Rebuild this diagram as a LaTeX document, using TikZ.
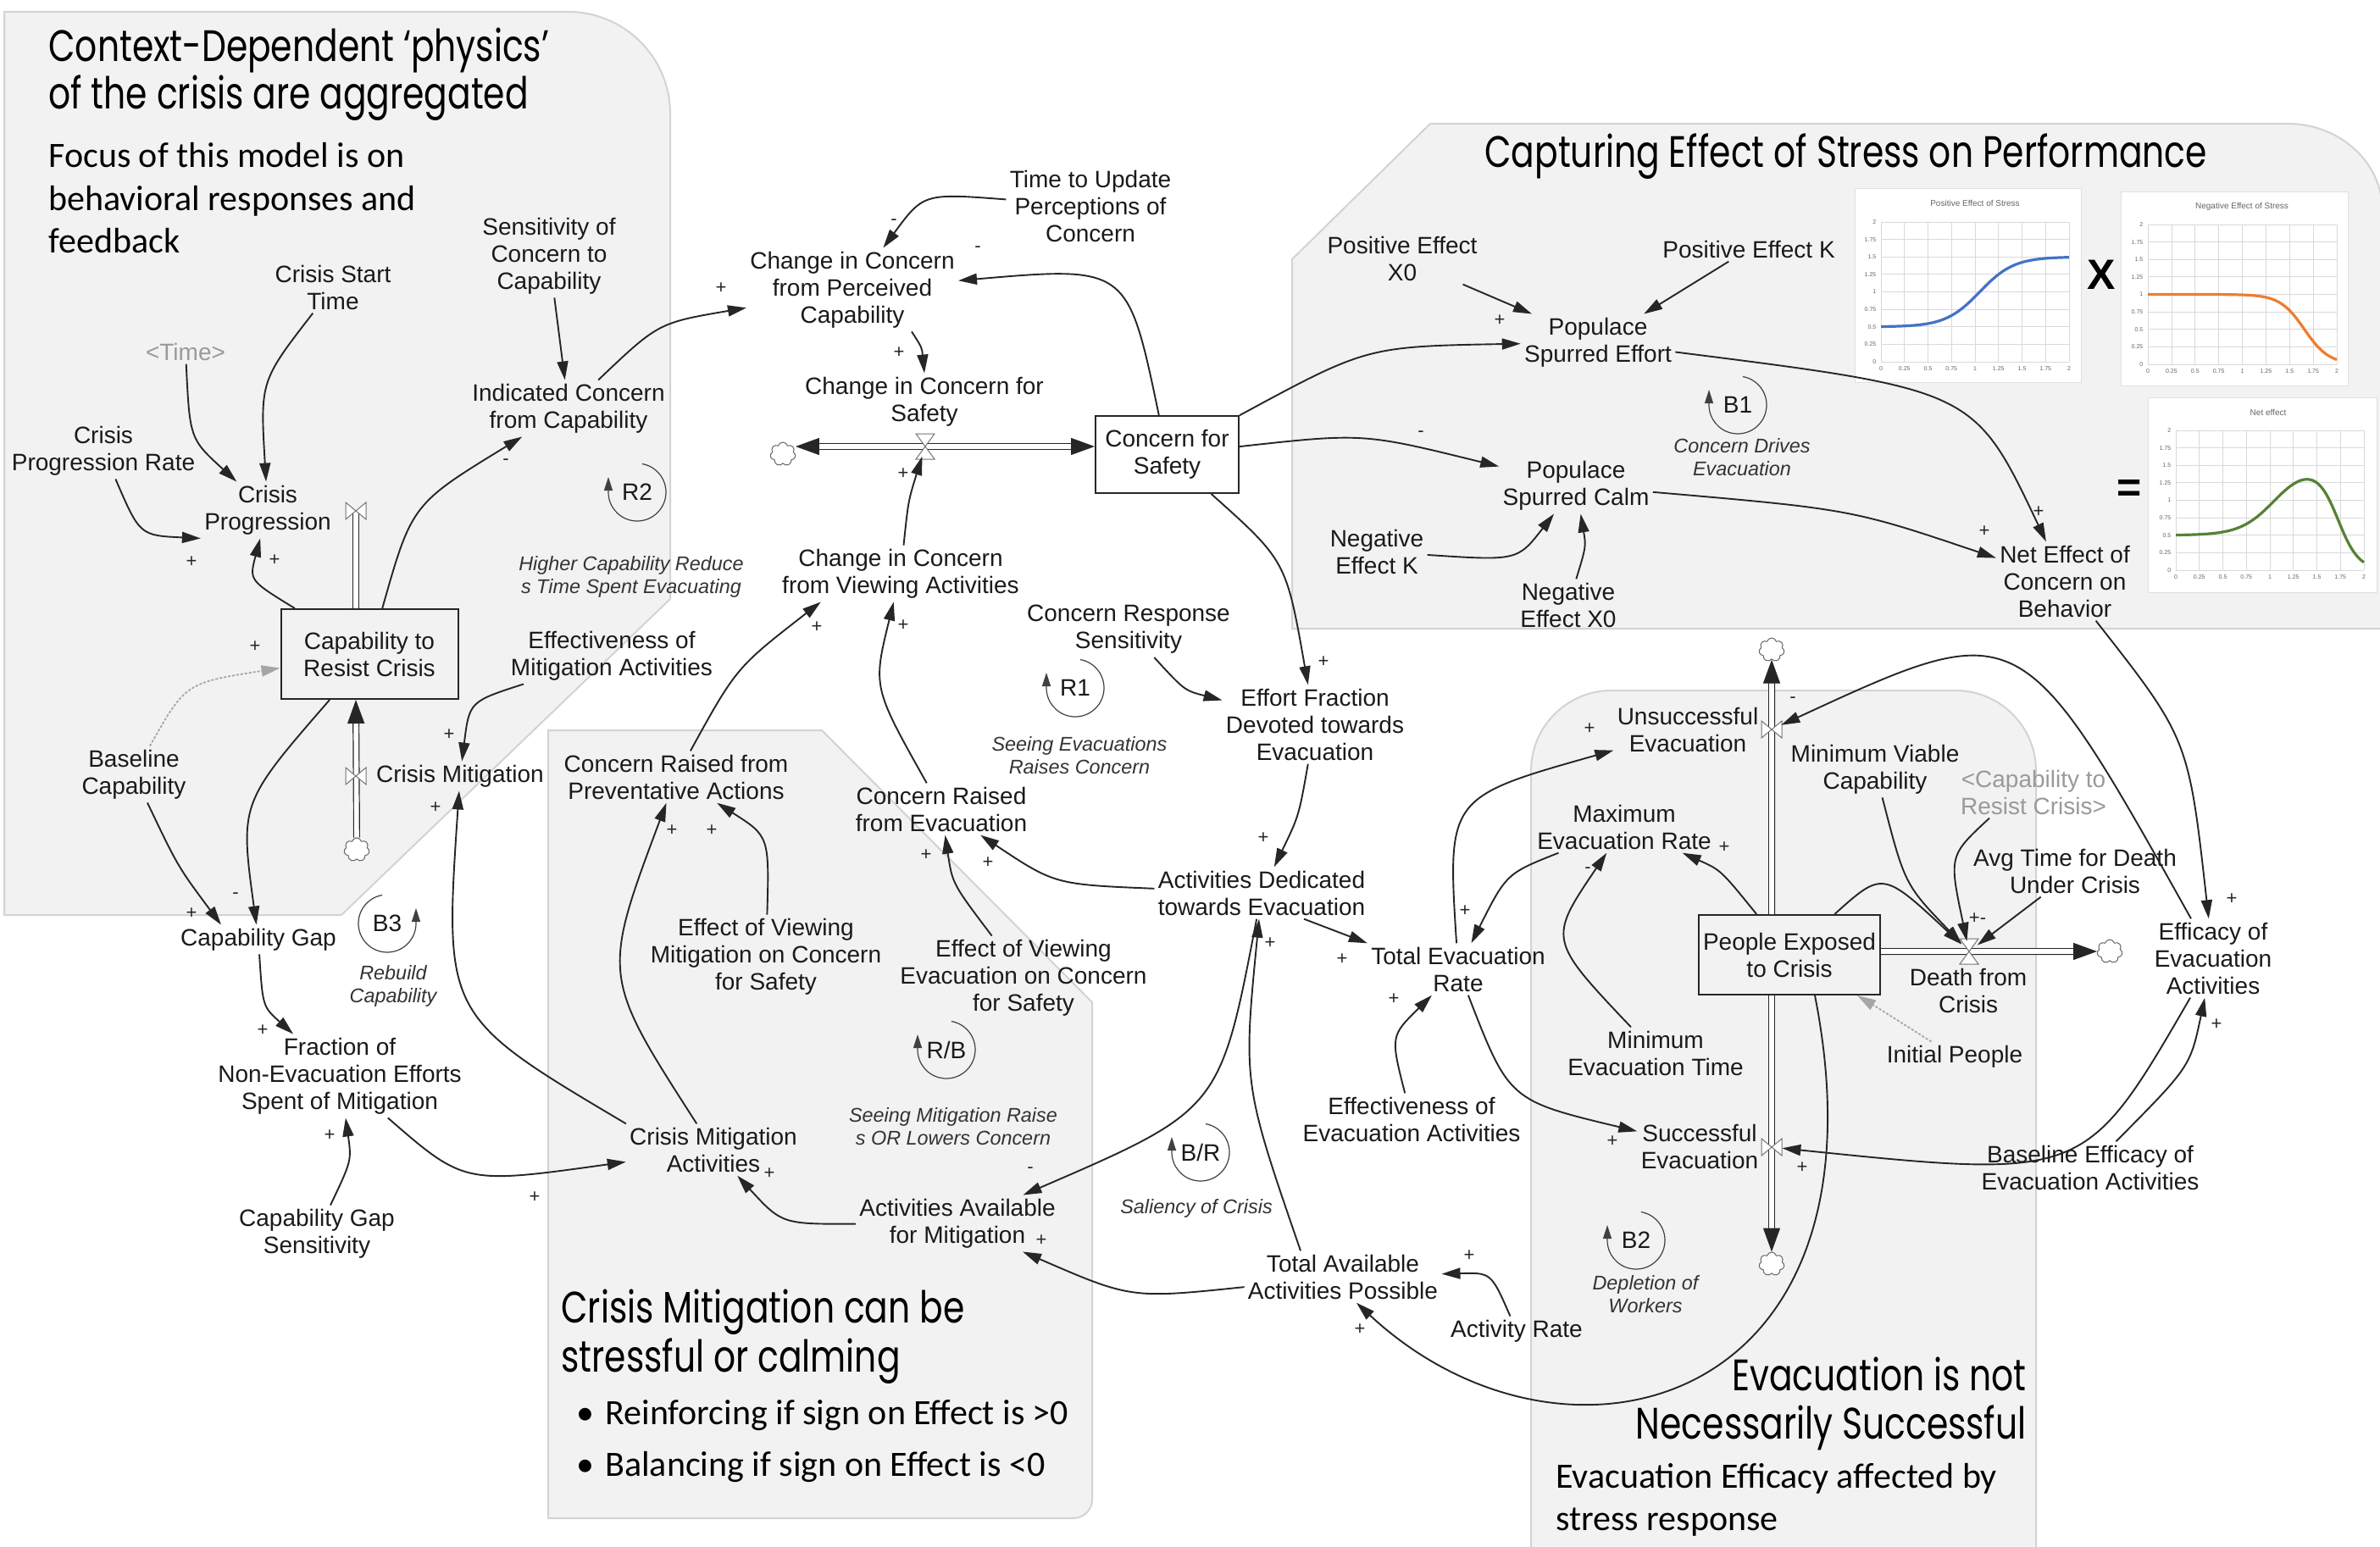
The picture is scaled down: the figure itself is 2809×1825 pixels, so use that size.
\documentclass[tikz,border=0pt]{standalone}
\usepackage{fontspec}
\setmainfont{Liberation Sans}
\newfontfamily\ttlfont[FakeStretch=0.785]{Poppins}
\newfontfamily\bdyfont{Carlito}
\usetikzlibrary{arrows.meta,shapes.symbols,calc}
\definecolor{panelfill}{HTML}{F2F2F2}
\definecolor{panelline}{HTML}{D3D3D3}
\definecolor{txt}{HTML}{1A1A1A}
\definecolor{graytxt}{HTML}{9A9A9A}
\definecolor{cblue}{HTML}{4472C4}
\definecolor{corange}{HTML}{ED7D31}
\definecolor{cgreen}{HTML}{548235}
\definecolor{gridc}{HTML}{D9D9D9}
\tikzset{
 var/.style={align=center, text=txt, font=\fontsize{14}{16}\selectfont, inner sep=2pt},
 gvar/.style={var, text=graytxt},
 stockbox/.style={var, draw=black!85, line width=1pt, inner sep=0pt},
 lname/.style={align=center, text=black!80, font=\fontsize{11.7}{13.5}\selectfont\itshape, inner sep=1pt},
 sgn/.style={font=\fontsize{11}{11}\selectfont, text=black!85, inner sep=0pt},
 link/.style={draw=black!85, line width=0.95pt, -{Triangle[length=11pt,width=6.5pt]}},
 glink/.style={draw=black!35, line width=0.9pt, dash pattern=on 1.5pt off 1pt, -{Triangle[length=11pt,width=6.5pt]}},
 pipe/.style={draw=black!85, double=white, double distance=2.8pt, line width=0.6pt},
 ptip/.style={-{Triangle[length=14pt,width=10pt]}},
 ptipb/.style={{Triangle[length=14pt,width=10pt]}-{Triangle[length=14pt,width=10pt]}},
 valvept/.style={circle, inner sep=0pt, minimum size=12pt},
 valveline/.style={draw=black!55, fill=white, line width=0.5pt},
 cloudn/.style={cloud, cloud puffs=7, aspect=1, draw=black!60, fill=white, line width=0.5pt, minimum width=15pt, minimum height=14pt, inner sep=0pt},
 panel/.style={fill=panelfill, draw=panelline, line width=1pt},
 loopline/.style={draw=black!75, line width=0.6pt, -{Triangle[length=8pt,width=5pt]}},
 charttitle/.style={font=\fontsize{5}{6}\selectfont, text=black!60, inner sep=0pt},
 ticklab/.style={font=\fontsize{3.5}{4}\selectfont, text=black!60, inner sep=1pt},
 chartbox/.style={draw=black!12, fill=white, line width=0.5pt},
 ttl/.style={font=\ttlfont\fontsize{26}{28}\selectfont, inner sep=0pt, text=black},
 bdy/.style={font=\bdyfont\fontsize{21}{25}\selectfont, inner sep=0pt, text=black},
}
\newcommand{\vvalve}[1]{\draw[valveline] ([shift={(-6pt,-5pt)}]#1.center) -- ([shift={(6pt,5pt)}]#1.center) -- ([shift={(6pt,-5pt)}]#1.center) -- ([shift={(-6pt,5pt)}]#1.center) -- cycle;}
\newcommand{\hvalve}[1]{\draw[valveline] ([shift={(-5.5pt,7.5pt)}]#1.center) -- ([shift={(5.5pt,7.5pt)}]#1.center) -- ([shift={(-5.5pt,-7.5pt)}]#1.center) -- ([shift={(5.5pt,-7.5pt)}]#1.center) -- cycle;}
\newcommand{\mkloopL}[4]{\node[var] (#1) at (#2,#3) {#4};
 \draw[loopline] ([shift={(80:17pt)}]#1.center) arc[start angle=80, end angle=-180, radius=17pt] -- ++(0,9pt);}
\newcommand{\mkloopR}[4]{\node[var] (#1) at (#2,#3) {#4};
 \draw[loopline] ([shift={(100:17pt)}]#1.center) arc[start angle=100, end angle=360, radius=17pt] -- ++(0,9pt);}
\begin{document}
\begin{tikzpicture}[x=0.5pt, y=-0.5pt]
\useasboundingbox (0,0) rectangle (2809,1825);
\fill[white] (0,0) rectangle (2809,1825);
% ---------- panels
\path[panel] (5,1080) -- (5,14) -- (671,14) .. controls (737,14) and (791,68) .. (791,134) -- (791,707) -- (403,1080) -- cycle;
\path[panel] (1525,742) -- (1525,306) -- (1688,146) -- (2700,146) .. controls (2760,146) and (2812,190) .. (2812,250) -- (2812,742) -- cycle;
\path[panel] (647,862) -- (970,862) -- (1289,1183) -- (1289,1770) .. controls (1289,1782) and (1279,1792) .. (1267,1792) -- (647,1792) -- cycle;
\path[panel] (1807,1835) -- (1807,910) .. controls (1807,857) and (1850,815) .. (1902,815) -- (2308,815) .. controls (2360,815) and (2403,857) .. (2403,910) -- (2403,1835) -- cycle;
% ---------- panel texts
\node[ttl, anchor=base west] (t1a) at (57,73) {Context-Dependent ‘physics’};
\node[ttl, anchor=base west] (t1b) at (57,128) {of the crisis are aggregated};
\node[bdy, anchor=base west] (b1a) at (57,197) {Focus of this model is on};
\node[bdy, anchor=base west] (b1b) at (57,248) {behavioral responses and};
\node[bdy, anchor=base west] (b1c) at (57,298) {feedback};
\node[ttl, anchor=base west] (t2) at (1752,197) {Capturing Effect of Stress on Performance};
\node[ttl, anchor=base west] (t3a) at (662,1561) {Crisis Mitigation can be};
\node[ttl, anchor=base west] (t3b) at (662,1619) {stressful or calming};
\node[bdy, anchor=base west] (bu1) at (680,1681) {•};
\node[bdy, anchor=base west] (bt1) at (714,1681) {Reinforcing if sign on Effect is >0};
\node[bdy, anchor=base west] (bu2) at (680,1742) {•};
\node[bdy, anchor=base west] (bt2) at (714,1742) {Balancing if sign on Effect is <0};
\node[ttl, anchor=base east] (t4a) at (2392,1641) {Evacuation is not};
\node[ttl, anchor=base east] (t4b) at (2392,1698) {Necessarily Successful};
\node[bdy, anchor=base west] (b4a) at (1836,1756) {Evacuation Efficacy affected by};
\node[bdy, anchor=base west] (b4b) at (1836,1806) {stress response};
% ---------- charts
\draw[chartbox] (2189,222) rectangle (2456,451);
\node[charttitle] (ch1t) at (2331,240) {Positive Effect of Stress};
\begin{scope}[shift={(2220,427)}, xscale=111, yscale=82.5]
 \foreach \v [count=\k] in {0,0.25,0.5,0.75,1,1.25,1.5,1.75,2} {
   \draw[gridc, line width=0.4pt] (\v,0) -- (\v,-2);
   \draw[gridc, line width=0.4pt] (0,-\v) -- (2,-\v);
   \node[ticklab, anchor=east] (aay\k) at (-0.03,-\v) {\v};
   \node[ticklab, anchor=north] (aax\k) at (\v,0.04) {\v};
 }
 \draw[cblue, line width=1.6pt] plot[domain=0:2, samples=60, smooth] (\x, {-(0.5+1/(1+exp(-5.5*(\x-1.05))))});
\end{scope}
\draw[chartbox] (2503,226) rectangle (2771,455);
\node[charttitle] (ch2t) at (2646,244) {Negative Effect of Stress};
\begin{scope}[shift={(2535,430)}, xscale=111.5, yscale=82.5]
 \foreach \v [count=\k] in {0,0.25,0.5,0.75,1,1.25,1.5,1.75,2} {
   \draw[gridc, line width=0.4pt] (\v,0) -- (\v,-2);
   \draw[gridc, line width=0.4pt] (0,-\v) -- (2,-\v);
   \node[ticklab, anchor=east] (aby\k) at (-0.03,-\v) {\v};
   \node[ticklab, anchor=north] (abx\k) at (\v,0.04) {\v};
 }
 \draw[corange, line width=1.6pt] plot[domain=0:2, samples=60, smooth] (\x, {-(1/(1+exp(7.7*(\x-1.657))))});
\end{scope}
\draw[chartbox] (2535,469) rectangle (2805,699);
\node[charttitle] (ch3t) at (2677,487) {Net effect};
\begin{scope}[shift={(2568,673)}, xscale=111, yscale=82.5]
 \foreach \v [count=\k] in {0,0.25,0.5,0.75,1,1.25,1.5,1.75,2} {
   \draw[gridc, line width=0.4pt] (\v,0) -- (\v,-2);
   \draw[gridc, line width=0.4pt] (0,-\v) -- (2,-\v);
   \node[ticklab, anchor=east] (acy\k) at (-0.03,-\v) {\v};
   \node[ticklab, anchor=north] (acx\k) at (\v,0.04) {\v};
 }
 \draw[cgreen, line width=1.6pt] plot[domain=0:2, samples=70, smooth] (\x, {-((0.5+1/(1+exp(-5.5*(\x-1.05))))*(1/(1+exp(9*(\x-1.72)))))});
\end{scope}
\node[font=\bfseries\fontsize{25}{25}\selectfont, inner sep=0pt] (mulX) at (2480,324) {X};
\node[font=\bfseries\fontsize{25}{25}\selectfont, inner sep=0pt] (eqS) at (2513,579) {=};
% ---------- variables
\node[var] (sensCap) at (648,302) {Sensitivity of\\Concern to\\Capability};
\node[var] (startT) at (393,339) {Crisis Start\\Time};
\node[gvar] (timeR) at (219,415) {\textless Time\textgreater};
\node[var] (indConc) at (671,482) {Indicated Concern\\from Capability};
\node[var] (cpRate) at (122,532) {Crisis\\Progression Rate};
\node[var] (crisisProg) at (316,602) {Crisis\\Progression};
\node[stockbox, minimum width=104.5pt, minimum height=53pt] (capBox) at (436,772) {Capability to\\Resist Crisis};
\node[var] (crisisMit) at (543,916) {Crisis Mitigation};
\node[var] (baseCap) at (158,914) {Baseline\\Capability};
\node[var] (capGap) at (305,1109) {Capability Gap};
\node[var] (effMit) at (722,774) {Effectiveness of\\Mitigation Activities};
\node[var] (fracNE) at (401,1270) {Fraction of\\Non-Evacuation Efforts\\Spent of Mitigation};
\node[var] (cgSens) at (374,1456) {Capability Gap\\Sensitivity};
\node[var] (ccPerc) at (1006,342) {Change in Concern\\from Perceived\\Capability};
\node[var] (timeUpd) at (1287,243) {Time to Update\\Perceptions of\\Concern};
\node[var] (ccSafety) at (1091,474) {Change in Concern for\\Safety};
\node[stockbox, minimum width=84.5pt, minimum height=45.5pt] (concBox) at (1377.5,536.5) {Concern for\\Safety};
\node[var] (ccView) at (1063,677) {Change in Concern\\from Viewing Activities};
\node[var] (concResp) at (1332,743) {Concern Response\\Sensitivity};
\node[var] (effFrac) at (1552,855) {Effort Fraction\\Devoted towards\\Evacuation};
\node[var] (crfe) at (1111,955) {Concern Raised\\from Evacuation};
\node[var] (actDed) at (1489,1054) {Activities Dedicated\\towards Evacuation};
\node[var] (crfpa) at (798,917) {Concern Raised from\\Preventative Actions};
\node[var] (evm) at (904,1129) {Effect of Viewing\\Mitigation on Concern\\for Safety};
\node[var] (eve) at (1208,1154) {Effect of Viewing\\Evacuation on Concern\\for Safety};
\node[var] (cma) at (842,1357) {Crisis Mitigation\\Activities};
\node[var] (actAvail) at (1130,1444) {Activities Available\\for Mitigation};
\node[var] (totAvail) at (1585,1507) {Total Available\\Activities Possible};
\node[var] (actRate) at (1790,1571) {Activity Rate};
\node[var] (posX0) at (1655,305) {Positive Effect\\X0};
\node[var] (posK) at (2064,294) {Positive Effect K};
\node[var] (popEff) at (1886,404) {Populace\\Spurred Effort};
\node[var] (popCalm) at (1860,573) {Populace\\Spurred Calm};
\node[var] (negK) at (1625,651) {Negative\\Effect K};
\node[var] (negX0) at (1851,714) {Negative\\Effect X0};
\node[var] (netEff) at (2437,686) {Net Effect of\\Concern on\\Behavior};
\node[var] (totEvac) at (1721,1144) {Total Evacuation\\Rate};
\node[var] (unsucc) at (1992,861) {Unsuccessful\\Evacuation};
\node[var] (maxEvac) at (1917,976) {Maximum\\Evacuation Rate};
\node[var] (minViable) at (2213,908) {Minimum Viable\\Capability};
\node[gvar] (capRef) at (2400,935) {\textless Capability to\\Resist Crisis\textgreater};
\node[var] (avgTime) at (2449,1028) {Avg Time for Death\\Under Crisis};
\node[stockbox, minimum width=107pt, minimum height=47pt] (peBox) at (2112,1127) {People Exposed\\to Crisis};
\node[var] (death) at (2323,1169) {Death from\\Crisis};
\node[var] (efficacy) at (2612,1131) {Efficacy of\\Evacuation\\Activities};
\node[var] (initPeople) at (2307,1247) {Initial People};
\node[var] (minEvacT) at (1954,1243) {Minimum\\Evacuation Time};
\node[var] (effEvac) at (1666,1321) {Effectiveness of\\Evacuation Activities};
\node[var] (succ) at (2006,1353) {Successful\\Evacuation};
\node[var] (baseEff) at (2467,1378) {Baseline Efficacy of\\Evacuation Activities};
% ---------- loop names
\node[lname] (lnR2) at (745,681) {Higher Capability Reduce\\s Time Spent Evacuating};
\node[lname] (lnB3) at (464,1164) {Rebuild\\Capability};
\node[lname] (lnR1) at (1274,892) {Seeing Evacuations\\Raises Concern};
\node[lname] (lnB1) at (2056,540) {Concern Drives\\Evacuation};
\node[lname] (lnRB) at (1125,1330) {Seeing Mitigation Raise\\s OR Lowers Concern};
\node[lname] (lnBR) at (1412,1426) {Saliency of Crisis};
\node[lname] (lnB2) at (1942,1528) {Depletion of\\Workers};
% ---------- valves and clouds
\node[valvept] (vCP) at (420,603) {};
\node[valvept] (vCM) at (420,916) {};
\node[valvept] (vCS) at (1092,527) {};
\node[valvept] (vUn) at (2091,861) {};
\node[valvept] (vSu) at (2091,1354) {};
\node[valvept] (vDe) at (2324,1123) {};
\node[cloudn] (cCM) at (421,1003) {};
\node[cloudn] (cCS) at (924,536) {};
\node[cloudn] (cUn) at (2091,767) {};
\node[cloudn] (cSu) at (2091,1492) {};
\node[cloudn] (cDe) at (2490,1123) {};
% ---------- pipes
\draw[pipe] (vCP |- capBox.north) -- (vCP.center);
\draw[pipe, ptip] (cCM.north) -- (vCM |- capBox.south);
\draw[pipe, ptipb] (cCS.east |- vCS) -- (vCS -| concBox.west);
\draw[pipe, ptip] (vUn |- peBox.north) -- (cUn.south);
\draw[pipe, ptip] (vSu |- peBox.south) -- (cSu.north);
\draw[pipe, ptip] (vDe -| peBox.east) -- (cDe.west);
\vvalve{vCP}
\vvalve{vCM}
\hvalve{vCS}
\vvalve{vUn}
\vvalve{vSu}
\hvalve{vDe}
% ---------- links
\draw[link] (sensCap) -- (indConc);
\draw[link] (startT) .. controls (307,450) .. (crisisProg);
\draw[link] (timeR) .. controls (224,518) .. (crisisProg);
\draw[link] (cpRate) .. controls (165,632) .. (crisisProg.south west);
\draw[link] (capBox) .. controls (294,685) .. (crisisProg);
\draw[link] (capBox) .. controls (486,595) .. (indConc);
\draw[link] (indConc) .. controls (777,381) .. (ccPerc);
\draw[link] (timeUpd) .. controls (1090,228) .. (ccPerc);
\draw[link] (concBox) .. controls (1331,314) .. (ccPerc);
\draw[link] ([xshift=35pt]ccPerc.south) .. controls (1088,410) .. (ccSafety.north);
\draw[link] (ccView) .. controls (1072,591) .. (vCS);
\draw[link] (concBox) .. controls (1613,409) .. (popEff);
\draw[link] (concBox) .. controls (1609,511) .. (popCalm);
\draw[link] (concBox) .. controls (1518,662) .. (effFrac);
\draw[link] (posX0) -- (popEff);
\draw[link] (posK) -- (popEff);
\draw[link] (negK) .. controls (1791,662) .. (popCalm);
\draw[link] (negX0) .. controls (1872,645) .. (popCalm);
\draw[link] (popEff) .. controls (2330,460) .. (netEff);
\draw[link] (popCalm) .. controls (2185,601) .. (netEff);
\draw[link] (netEff) .. controls (2583,872) .. (efficacy);
\draw[link] (concResp) .. controls (1398,815) .. (effFrac);
\draw[link] (effFrac) .. controls (1533,963) .. (actDed);
\draw[link] (actDed) .. controls (1245,1044) .. (crfe);
\draw[link] ([xshift=25pt]actDed.south) -- (totEvac.north west);
\draw[link] (crfe) .. controls (1030,811) .. (ccView);
\draw[link] (crfpa) .. controls (869,788) .. ([xshift=25pt]ccView.south west);
\draw[link] (evm) .. controls (908,987) .. (crfpa);
\draw[link] (cma) .. controls (710,1152) .. (crfpa);
\draw[link] (cma.north west) .. controls (524,1199) .. (crisisMit);
\draw[link] (effMit) .. controls (554,828) .. (crisisMit);
\draw[link] (eve) .. controls (1124,1043) .. (crfe);
\draw[link] (actDed) .. controls (1440,1310) .. (actAvail);
\draw[link] (actAvail) .. controls (923,1445) .. (cma);
\draw[link] (totAvail) .. controls (1335,1533) .. (actAvail);
\draw[link] ([xshift=-25pt]totAvail.north) .. controls (1467,1279) .. (actDed);
\draw[link] (actRate) .. controls (1760,1502) .. (totAvail);
\draw[link] ([xshift=15pt]peBox.south) .. controls (2239,1666) and (1845,1765) .. ([xshift=8pt]totAvail.south);
\draw[link] (capGap) .. controls (310,1188) .. (fracNE);
\draw[link] (cgSens) .. controls (415,1370) .. (fracNE);
\draw[link] (fracNE) .. controls (548,1398) .. (cma);
\draw[link] (baseCap) .. controls (210,1023) .. ([xshift=-22pt]capGap.north);
\draw[link] (capBox) .. controls (283,948) .. (capGap);
\draw[glink] (baseCap) .. controls (219,806) .. (capBox);
\draw[link] (totEvac) .. controls (1708,941) .. (unsucc);
\draw[link] (maxEvac) .. controls (1778,1031) .. (totEvac);
\draw[link] (minEvacT) .. controls (1827,1109) .. (maxEvac);
\draw[link] (peBox) .. controls (2031,1027) .. (maxEvac);
\draw[link] (totEvac) .. controls (1781,1299) .. (succ);
\draw[link] (effEvac) .. controls (1641,1223) .. (totEvac);
\draw[link] (efficacy) .. controls (2385,725) .. (vUn);
\draw[link] (efficacy) .. controls (2461,1392) .. (vSu);
\draw[link] (baseEff) .. controls (2585,1259) .. (efficacy);
\draw[link] (minViable) .. controls (2248,1044) .. (vDe);
\draw[link] ([xshift=-26pt]capRef.south) .. controls (2300,1010) .. (vDe);
\draw[link] (avgTime) -- (vDe);
\draw[link] (peBox) .. controls (2222,1028) .. (vDe);
\draw[glink] (initPeople) .. controls (2217,1190) .. (peBox);
% ---------- loops
\mkloopL{loopR2}{752}{581}{R2}
\mkloopR{loopB3}{457}{1090}{B3}
\mkloopL{loopR1}{1269}{812}{R1}
\mkloopL{loopB1}{2051}{478}{B1}
\mkloopL{loopRB}{1117}{1239}{R/B}
\mkloopL{loopBR}{1417}{1360}{B/R}
\mkloopL{loopB2}{1931}{1464}{B2}
% ---------- polarity signs
\node[sgn] (sg1) at (226,663) {+};
\node[sgn] (sg2) at (324,661) {+};
\node[sgn] (sg3) at (597,545) {-};
\node[sgn] (sg4) at (851,340) {+};
\node[sgn] (sg5) at (1055,262) {-};
\node[sgn] (sg6) at (1154,294) {-};
\node[sgn] (sg7) at (1061,416) {+};
\node[sgn] (sg8) at (1066,559) {+};
\node[sgn] (sg9) at (1770,378) {+};
\node[sgn] (sg10) at (1677,512) {-};
\node[sgn] (sg11) at (1562,781) {+};
\node[sgn] (sg12) at (2406,604) {+};
\node[sgn] (sg13) at (2342,627) {+};
\node[sgn] (sg14) at (2634,1061) {+};
\node[sgn] (sg15) at (1491,989) {+};
\node[sgn] (sg16) at (1166,1018) {+};
\node[sgn] (sg17) at (1093,1009) {+};
\node[sgn] (sg18) at (1584,1132) {+};
\node[sgn] (sg19) at (1066,738) {+};
\node[sgn] (sg20) at (964,740) {+};
\node[sgn] (sg21) at (793,980) {+};
\node[sgn] (sg22) at (840,980) {+};
\node[sgn] (sg23) at (530,867) {+};
\node[sgn] (sg24) at (514,953) {+};
\node[sgn] (sg25) at (301,763) {+};
\node[sgn] (sg26) at (226,1078) {+};
\node[sgn] (sg27) at (278,1057) {-};
\node[sgn] (sg28) at (310,1216) {+};
\node[sgn] (sg29) at (389,1340) {+};
\node[sgn] (sg30) at (631,1413) {+};
\node[sgn] (sg31) at (908,1385) {+};
\node[sgn] (sg32) at (1216,1381) {-};
\node[sgn] (sg33) at (1229,1464) {+};
\node[sgn] (sg34) at (1499,1113) {+};
\node[sgn] (sg35) at (1734,1482) {+};
\node[sgn] (sg36) at (1605,1569) {+};
\node[sgn] (sg37) at (1876,860) {+};
\node[sgn] (sg38) at (1729,1075) {+};
\node[sgn] (sg39) at (1874,1027) {-};
\node[sgn] (sg40) at (2035,1000) {+};
\node[sgn] (sg41) at (1645,1179) {+};
\node[sgn] (sg42) at (1903,1347) {+};
\node[sgn] (sg43) at (2127,1378) {+};
\node[sgn] (sg44) at (2116,826) {-};
\node[sgn] (sg45) at (2616,1209) {+};
\node[sgn] (sg46) at (2334,1084) {+-};
\end{tikzpicture}
\end{document}
